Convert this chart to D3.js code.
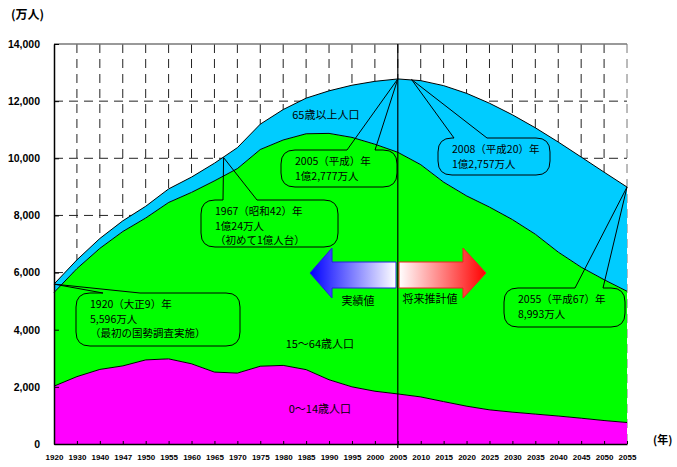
<!DOCTYPE html>
<html lang="ja">
<head>
<meta charset="utf-8">
<script src="https://cdn.jsdelivr.net/npm/d3@7"></script>
<style>
  html, body { margin: 0; padding: 0; background: #fff; }
  svg { display: block; }
  text { font-family: "Noto Sans CJK JP", "Liberation Sans", sans-serif; }
</style>
</head>
<body>
<svg id="chart" width="677" height="467"></svg>
<script>
// Census years (actual) and projection years
const years = ["1920","1930","1940","1947","1950","1955","1960","1965","1970","1975","1980","1985","1990","1995","2000","2005",
               "2010","2015","2020","2025","2030","2035","2040","2045","2050","2055"];

// Population by age group (万人)
const age0to14 = [2025,2358,2610,2733,2943,2980,2807,2517,2482,2722,2751,2603,2249,2001,1847,1752,
                  1648,1484,1324,1195,1115,1047,979,903,821,752];
const age15to64 = [3277,3781,4237,4703,4966,5473,6000,6693,7157,7585,7890,8255,8622,8730,8645,8458,
                   8129,7681,7360,7097,6740,6296,5738,5285,4930,4595];
const age65plus = [294,306,346,374,411,475,535,618,733,887,1065,1247,1490,1826,2201,2567,
                   2941,3378,3590,3635,3667,3725,3853,3856,3764,3646];

const yTicks = [0,2000,4000,6000,8000,10000,12000,14000];

// Callout notes: year position, value (万人), text lines
const notes = [
  { key: "n1920", year: 1920, value: 5596,  lines: ["1920（大正9）年", "5,596万人", "（最初の国勢調査実施）"] },
  { key: "n1967", year: 1967, value: 10024, lines: ["1967（昭和42）年", "1億24万人", "（初めて1億人台）"] },
  { key: "n2005", year: 2005, value: 12777, lines: ["2005（平成）年", "1億2,777万人"] },
  { key: "n2008", year: 2008, value: 12757, lines: ["2008（平成20）年", "1億2,757万人"] },
  { key: "n2055", year: 2055, value: 8993,  lines: ["2055（平成67）年", "8,993万人"] }
];

// Box geometry for each callout (x, y, w, h, opening on top edge)
const noteBoxes = {
  n1920: { x: 76,  y: 293, w: 164, h: 53, gap: [103, 140] },
  n1967: { x: 201, y: 200, w: 137, h: 47, gap: [223, 257] },
  n2005: { x: 281, y: 150, w: 116, h: 37, gap: [347, 375] },
  n2008: { x: 438, y: 138, w: 112, h: 37, gap: [454, 487] },
  n2055: { x: 504, y: 288, w: 121, h: 39, gap: [575, 603] }
};

const svg = d3.select("#chart");
const margin = { left: 54, right: 50, top: 44, bottom: 23 };
const W = 677, H = 467;

const x = d3.scalePoint().domain(years).range([margin.left, W - margin.right]);
const y = d3.scaleLinear().domain([0, 14000]).range([H - margin.bottom, margin.top]);
const step = x.step();

// Position for an arbitrary year between census points
function xYear(yr) {
  const nums = years.map(Number);
  for (let i = 0; i < nums.length - 1; i++) {
    if (yr >= nums[i] && yr <= nums[i + 1]) {
      return x(years[i]) + (yr - nums[i]) / (nums[i + 1] - nums[i]) * step;
    }
  }
  return x(years[years.length - 1]);
}

// Grid (dashed) drawn first so the areas cover it
const grid = svg.append("g");
grid.selectAll("line.v").data(years.slice(1))
  .join("line")
  .attr("x1", d => x(d)).attr("x2", d => x(d))
  .attr("y1", y(14000)).attr("y2", y(0))
  .attr("stroke", d => d === "2055" ? "#777" : "#222")
  .attr("stroke-width", 1)
  .attr("stroke-dasharray", "9,6");
grid.selectAll("line.h").data(yTicks.filter(t => t > 0 && t < 14000))
  .join("line")
  .attr("x1", x(years[0])).attr("x2", x("2055"))
  .attr("y1", d => y(d)).attr("y2", d => y(d))
  .attr("stroke", "#222")
  .attr("stroke-dasharray", "9,6");
grid.append("line")
  .attr("x1", x(years[0])).attr("x2", x("2055"))
  .attr("y1", y(14000)).attr("y2", y(14000))
  .attr("stroke", "#777").attr("stroke-width", 1.5);

// Stacked areas
const rows = years.map((yr, i) => ({ year: yr, young: age0to14[i], working: age15to64[i], elderly: age65plus[i] }));
const stack = d3.stack().keys(["young", "working", "elderly"]);
const layers = stack(rows);
const colors = { young: "#FF00FF", working: "#00FF00", elderly: "#00CCFF" };

const area = d3.area()
  .x(d => x(d.data.year))
  .y0(d => y(d[0]))
  .y1(d => y(d[1]));
const topLine = d3.line()
  .x(d => x(d.data.year))
  .y(d => y(d[1]));

svg.append("g").selectAll("path").data(layers)
  .join("path")
  .attr("d", area)
  .attr("fill", d => colors[d.key]);
svg.append("g").selectAll("path").data(layers)
  .join("path")
  .attr("d", topLine)
  .attr("fill", "none")
  .attr("stroke", "#000")
  .attr("stroke-width", 1);

// Divider between actual and projected values
svg.append("line")
  .attr("x1", x("2005")).attr("x2", x("2005"))
  .attr("y1", y(14000)).attr("y2", y(0) + 4)
  .attr("stroke", "#000").attr("stroke-width", 1.2);

// Axes
const yAxis = d3.axisLeft(y).tickValues(yTicks).tickSizeInner(-5).tickSizeOuter(0)
  .tickFormat(d3.format(","));
const gy = svg.append("g").attr("transform", `translate(${x(years[0])},0)`).call(yAxis);
gy.select(".domain").attr("stroke", "#000").attr("stroke-width", 1.5);
gy.selectAll(".tick line").attr("stroke", "#000");
gy.selectAll(".tick text")
  .attr("x", -14)
  .style("font-family", "'Liberation Sans', Arial, sans-serif")
  .style("font-weight", "bold").style("font-size", "10.5px").attr("fill", "#000");

const xAxis = d3.axisBottom(x).tickSizeInner(-3).tickSizeOuter(0);
const gx = svg.append("g").attr("transform", `translate(0,${y(0)})`).call(xAxis);
gx.select(".domain").attr("stroke", "#000").attr("stroke-width", 1.5);
gx.selectAll(".tick line").attr("stroke", "#000");
gx.selectAll(".tick text")
  .attr("y", 10)
  .style("font-family", "'Liberation Sans', Arial, sans-serif")
  .style("font-weight", "bold").style("font-size", "8px").attr("fill", "#000");

// Unit labels
svg.append("text").attr("x", 11).attr("y", 19)
  .style("font-weight", "bold").style("font-size", "12px").text("(万人)");
svg.append("text").attr("x", 653).attr("y", 444)
  .style("font-weight", "bold").style("font-size", "11px").text("(年)");

// Area labels
const areaLabels = [
  { text: "65歳以上人口", year: 1989.3, value: 11480 },
  { text: "15～64歳人口", year: 1988,   value: 3465 },
  { text: "0～14歳人口",  year: 1988,   value: 1190 }
];
svg.append("g").selectAll("text").data(areaLabels)
  .join("text")
  .attr("x", d => xYear(d.year)).attr("y", d => y(d.value))
  .attr("text-anchor", "middle").attr("dominant-baseline", "middle")
  .style("font-size", "11px").text(d => d.text);

// Callouts: rounded box with a wedge pointing at the value
function calloutPath(b, tx, ty) {
  const r = 14;
  const x0 = b.x, y0 = b.y, x1 = b.x + b.w, y1 = b.y + b.h;
  return `M${b.gap[0]},${y0} L${tx},${ty} L${b.gap[1]},${y0}` +
    ` L${x1 - r},${y0} Q${x1},${y0} ${x1},${y0 + r}` +
    ` L${x1},${y1 - r} Q${x1},${y1} ${x1 - r},${y1}` +
    ` L${x0 + r},${y1} Q${x0},${y1} ${x0},${y1 - r}` +
    ` L${x0},${y0 + r} Q${x0},${y0} ${x0 + r},${y0} Z`;
}
const gn = svg.append("g");
notes.forEach(n => {
  const b = noteBoxes[n.key];
  gn.append("path")
    .attr("d", calloutPath(b, xYear(n.year), y(n.value)))
    .attr("fill", "none").attr("stroke", "#000").attr("stroke-width", 1);
  gn.append("g").selectAll("text").data(n.lines)
    .join("text")
    .attr("x", b.x + 14)
    .attr("y", (d, i) => b.y + 15 + i * 14.5)
    .style("font-size", "10.5px").text(d => d);
});

// Direction arrows: actual (left) and projection (right)
const defs = svg.append("defs");
const gBlue = defs.append("linearGradient").attr("id", "gBlue").attr("x1", "0").attr("x2", "1");
gBlue.append("stop").attr("offset", "0").attr("stop-color", "#0000FF");
gBlue.append("stop").attr("offset", "1").attr("stop-color", "#FFFFFF");
const gRed = defs.append("linearGradient").attr("id", "gRed").attr("x1", "0").attr("x2", "1");
gRed.append("stop").attr("offset", "0").attr("stop-color", "#FFFFFF");
gRed.append("stop").attr("offset", "1").attr("stop-color", "#FF0000");

const cy = 273;
svg.append("path")
  .attr("d", `M310,${cy} L332,${cy - 25} L332,${cy - 11} L396,${cy - 11} L396,${cy + 15} L332,${cy + 15} L332,${cy + 25} Z`)
  .attr("fill", "url(#gBlue)").attr("stroke", "#2222DD").attr("stroke-width", 1);
svg.append("path")
  .attr("d", `M399,${cy - 11} L463,${cy - 11} L463,${cy - 25} L486,${cy} L463,${cy + 25} L463,${cy + 15} L399,${cy + 15} Z`)
  .attr("fill", "url(#gRed)").attr("stroke", "#EE2222").attr("stroke-width", 1);
svg.append("text").attr("x", 358).attr("y", 302).attr("text-anchor", "middle")
  .attr("dominant-baseline", "middle").style("font-size", "11px").text("実績値");
svg.append("text").attr("x", 430).attr("y", 300).attr("text-anchor", "middle")
  .attr("dominant-baseline", "middle").style("font-size", "11px").text("将来推計値");
</script>
</body>
</html>
